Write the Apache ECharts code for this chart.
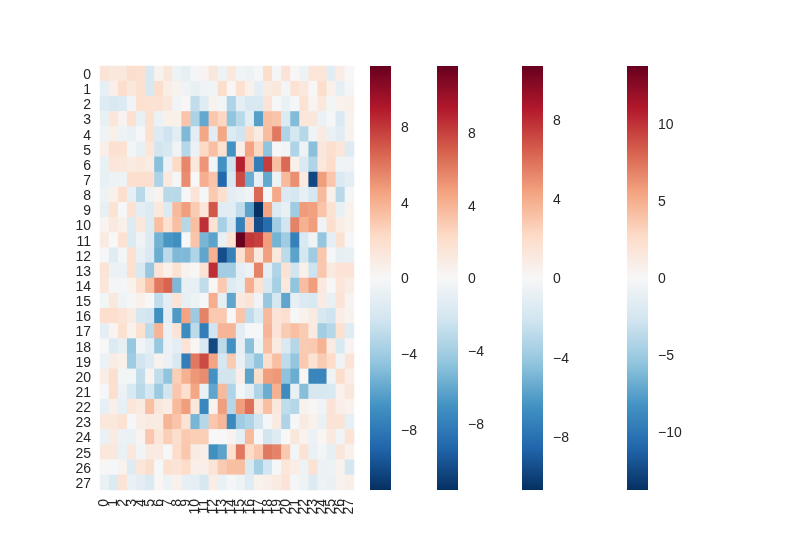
<!DOCTYPE html>
<html><head><meta charset="utf-8">
<style>html,body{margin:0;padding:0;background:#fff}#c{width:800px;height:550px}</style>
<script src="https://cdn.jsdelivr.net/npm/echarts@6/dist/echarts.min.js"></script>
</head><body><div id="c"></div>
<script>
const labels = Array.from({length:28},(_, i)=>String(i));
const row00=[1.5,1.2,1.2,2,1.8,-1.8,0.4,1.3,-0.6,-1,-0.2,0.3,1.3,-0.6,1.2,-0.4,-0.6,-0.1,2,-0.2,1.5,0.1,-0.6,1.4,1.4,-1.3,0.8,0];
const row01=[-1,0.7,2,1.2,1.8,-1.8,2,0.8,0.4,-0.5,-0.9,-0.5,-0.4,2,0.1,1.8,0.6,-1.1,1,1.2,-0.3,1.7,1.2,0.1,2,0.6,-1,-0.2];
const row02=[-1.5,-1.8,-1.6,-0.4,1.8,1.7,1.7,1.3,-0.4,0.1,-2.8,-1.4,0.4,-0.3,-3.4,-1.1,-1.8,-1.8,1.5,-0.1,-0.8,-0.1,1.7,0.3,1.2,-0.3,0.5,0.6];
const row03=[-0.9,1.4,0.3,1.8,-0.9,1.8,-0.7,0.6,0.6,3.2,-3.6,-5.8,3.1,2.4,-4.5,-3.1,-1.3,-6.2,3.4,3.2,-1.6,-4.9,1.4,1.3,-0.7,-0.1,-1.7,0.4];
const row04=[-0.5,0.6,-0.6,-0.8,-0.1,1.8,-1.6,-2.3,-1.3,-5,-1.2,4.4,-1.3,4.4,-1.6,-2.2,2.3,1,3.5,5.9,-3.4,-2,-3.2,-0.5,1,-0.8,-1.3,0.4];
const row05=[0.7,1.8,1.7,-0.3,-0.9,1.4,-2.1,-1.9,-0.5,-3.2,-0.7,2.3,3.4,1.8,-6.7,0.7,4.5,2.4,-4.5,-0.1,-0.4,-3.4,-0.6,-4.7,1.3,1.9,1.4,-1.5];
const row06=[-0.8,1.4,1.2,1,1.2,0.9,-4.7,-0.7,2.3,5.5,1.2,5,-0.4,-6.8,-2.3,8.7,3.6,-7.8,7.8,3.4,6.4,0.6,-1.7,-3.4,1.2,2.1,-0.5,-0.5];
const row07=[-0.9,-0.6,-0.6,1.9,1.9,1.9,-3.5,1.1,-0.2,5.3,0,4.1,3.2,-8.8,-1.8,7.4,-5.6,-1.1,-5.8,-0.6,3.6,5.2,1,-10.2,4.7,3.1,-1.7,-1.2];
const row08=[-0.6,0.6,1.9,-1,-3.1,-0.6,0.4,-3.1,-3.1,-0.1,1.5,-0.1,3,1.9,-1.2,-0.9,-0.5,6.4,-0.1,4.3,-1.7,-2,-1,-2,3.6,0.6,-3.1,-0.2];
const row09=[-0.9,1.7,-0.1,1.7,-1.2,-1.6,1.2,-1.6,3.6,4.7,2.9,1.4,7,-1.3,-1.3,-2.8,-6,-11.2,4.5,-1.6,-0.9,-4,4.8,4.6,3.2,1.7,-0.9,0.5];
const row10=[0.3,1.1,0.6,-1.5,1.2,-1.6,3.4,1.8,3.4,-3.2,3.4,8.2,1.7,-3.7,-2,-7.6,3.1,-10,-8.6,-3.9,-2.2,5.6,4,4.7,-0.5,1.9,0.8,0.5];
const row11=[1,0,1.7,-1.6,-0.5,-1.5,-5.3,-6.6,-6.9,-0.1,3.2,-5.2,-6,-0.9,1.7,11.2,8,7.7,4.7,-5.3,-4,-7.6,-1.8,-0.5,-4.4,-1.1,1.7,-0.1];
const row12=[-0.1,-1.4,-0.2,1.8,-0.9,-1.7,-5.6,-3,-5,-5,-3.4,-5.9,4,-10,-7.6,1.8,4.6,1.1,4.6,1.2,-3,-6,-2,-4,3.1,-0.1,-1,-0.9];
const row13=[1.6,-0.7,-0.7,1.8,-1.8,-4.3,1.5,0.6,1.7,0.4,0.1,1.7,8.3,-3.9,-3.9,-1.1,-0.7,5.6,-1.1,-3.4,1.7,-2.1,0.6,-2.4,3.1,1.1,1.5,1.5];
const row14=[1.4,-0.2,-0.2,0.5,1.8,3.4,5.9,6.6,-5,-0.9,-1,-2.8,0.2,3,-1.5,-1,4.1,1.7,-1.8,-3.8,1.2,-4.5,3.5,4.7,1.1,0,1.4,0.9];
const row15=[-0.3,1.2,-0.5,-0.2,0.6,0,-2.8,-1.2,1.6,-1,-0.6,-0.1,4.1,-1,-5.9,1.1,1.5,-0.5,-4.3,-2,-5.9,-1,-1.7,-1.8,1,-0.9,1.6,0.3];
const row16=[1.9,1.9,1.5,1,-2,-2.2,-6.9,-1.2,-6.4,4.5,-4.1,5.6,3,3,0,3.2,-2.9,-1.6,3.6,1.5,1.9,-0.1,0.5,1,-1.9,-2.3,0.8,0.4];
const row17=[-1.1,0.3,1.8,0.5,1.8,-3,3.8,-0.7,1.6,-7.1,-3,-7.8,-2.2,3.8,3.8,-1.2,-0.1,-0.1,3.8,1.5,2.9,3.4,2.9,1,-3.9,-3.2,1.8,-1.4];
const row18=[0,-1.6,-1,-4.3,-0.4,-1.1,-4.3,-0.7,-1.2,1.5,0.2,-1.7,-10.2,-3,-6.8,-1,-4.7,-0.6,3.4,1,-1.7,-3.2,2.9,3,3.9,1,-1.8,0.3];
const row19=[-0.7,0.9,0.6,-4,-2.1,-1.5,0.4,-0.7,-1.8,-7.8,5.9,7.4,4.5,-2,2.9,-0.8,-2.8,-4.4,2,3.4,-2.9,-4.4,3,1.7,2.9,2.2,-0.5,1.5];
const row20=[0.8,1.9,-0.3,-0.3,-2.8,0.3,-2.8,-4.5,2.8,4,4.9,5.3,-6.8,-2.1,-2.1,0.7,-6,2,4.7,4.9,-4.6,-5.6,0.1,-7.4,-7.4,-0.5,2,0.8];
const row21=[-0.1,1.9,-0.7,-1.8,-3.1,-2,-4.1,-2.1,3.1,1.9,4.4,-0.8,-5.9,3.6,-3.4,-0.3,-1.2,-3.4,-5.6,4,-7.1,-0.9,-4.8,-1.9,-1.9,-1.8,0.5,1.3];
const row22=[-1,0.7,-1,1.4,1,3.4,1.3,0.9,3.6,4.7,1.3,-7.3,0.4,4.7,-3.2,4.7,6.2,1.4,3.4,1.2,-2.9,-3.2,0.4,0.1,-0.4,1.5,0.7,0.5];
const row23=[1.2,1.2,1.7,-0.1,0.8,1,1,3.8,3.2,1.6,-5.2,-3.2,3.1,3.7,-7.2,-4,-3.4,-2.2,-0.2,1,-3.4,-0.1,1,0.5,-0.8,1.6,1.6,-1];
const row24=[-0.8,1,-0.7,-0.8,0.3,3.1,1.4,2.8,2,3,2.8,2.8,0,0,0.3,-1,3.6,-0.1,-2.2,-1.5,0,1.3,0.5,-0.7,0.2,1.1,-0.4,1.6];
const row25=[1.2,1.2,-0.8,1.2,-0.4,1,1,-0.1,2.1,3.1,1,0.7,-6.9,-6,1.8,5.9,2.2,3.1,5.9,5.6,3,-0.3,1.7,-0.8,-0.3,-1,1.3,0.5];
const row26=[0.1,-0.1,0.4,-1.5,1.4,2,-0.1,1.8,1.5,2.2,0.7,0.7,1.6,2.9,3.4,3.4,-1.8,-3.8,-2.2,-0.1,1.4,0.8,-0.6,1.7,-0.7,-0.6,0.4,-2];
const row27=[-0.8,-1.6,1.5,-0.8,-1.2,-1.7,0.2,-0.6,0.6,-1,-1.1,-1.9,0.8,-0.8,-0.2,-0.6,-1.4,0.5,0.7,1,1.5,-0.2,-0.6,-1.6,-0.6,-0.8,0.4,0.7];
const rows=[row00,row01,row02,row03,row04,row05,row06,row07,row08,row09,row10,row11,row12,row13,row14,row15,row16,row17,row18,row19,row20,row21,row22,row23,row24,row25,row26,row27];
const heatMax = 11.2;
const palette = ['#053061','#2166ac','#4393c3','#92c5de','#d1e5f0','#f7f7f7','#fddbc7','#f4a582','#d6604d','#b2182b','#67001f'];
const cbMax = [11.2, 11.65, 10.7, 13.77];
const cbTicks = [[-8,-4,0,4,8],[-8,-4,0,4,8],[-8,-4,0,4,8],[-10,-5,0,5,10]];
const cbLeft = [370, 437, 522, 627];
const FONT = 'Liberation Sans', INK = '#262626';

const heatData = [];
rows.forEach((r, y) => r.forEach((v, x) => heatData.push([x, y, v])));

const gradient = new echarts.graphic.LinearGradient(0, 1, 0, 0,
  palette.map((c, i) => ({offset: i / (palette.length - 1), color: c})));

const grid = [{left:100, top:66, width:254, height:424, containLabel:false}];
const xAxis = [{type:'category', gridIndex:0, data:labels, position:'bottom',
  axisLine:{show:false}, axisTick:{show:false}, splitLine:{show:false},
  axisLabel:{interval:0, rotate:90, fontFamily:FONT, fontSize:14, color:INK, margin:9}}];
const yAxis = [{type:'category', gridIndex:0, data:labels, inverse:true,
  axisLine:{show:false}, axisTick:{show:false}, splitLine:{show:false},
  axisLabel:{interval:0, fontFamily:FONT, fontSize:14, color:INK, margin:9, verticalAlign:'top', lineHeight:3}}];
const series = [{type:'heatmap', xAxisIndex:0, yAxisIndex:0, data:heatData, progressive:0,
  itemStyle:{borderWidth:0}, emphasis:{disabled:true}}];

cbMax.forEach((m, i) => {
  const g = i + 1;
  grid.push({left:cbLeft[i], top:66, width:21, height:424});
  xAxis.push({type:'value', gridIndex:g, min:0, max:1, show:false});
  yAxis.push({type:'value', gridIndex:g, min:-m, max:m, position:'right',
    axisLine:{show:false}, axisTick:{show:false}, splitLine:{show:false},
    axisLabel:{customValues:cbTicks[i], fontFamily:FONT, fontSize:14, color:INK, margin:10, verticalAlign:'top', lineHeight:3,
      formatter:v => String(v).replace('-', '\u2212')}});
  series.push({type:'custom', xAxisIndex:g, yAxisIndex:g, silent:true, clip:false,
    data:[[0, -m, 1, m]], encode:{x:[0,2], y:[1,3]},
    renderItem:(params, api) => {
      const a = api.coord([api.value(0), api.value(3)]);
      const b = api.coord([api.value(2), api.value(1)]);
      return {type:'rect', shape:{x:a[0], y:a[1], width:b[0]-a[0], height:b[1]-a[1]}, style:{fill:gradient}};
    }});
});

const chart = echarts.init(document.getElementById('c'), null, {renderer:'canvas'});
chart.setOption({
  animation:false, backgroundColor:'#fff', tooltip:{show:false},
  grid, xAxis, yAxis, series,
  visualMap:{show:false, type:'continuous', seriesIndex:0, dimension:2, min:-heatMax, max:heatMax, inRange:{color:palette}}
});
</script></body></html>
